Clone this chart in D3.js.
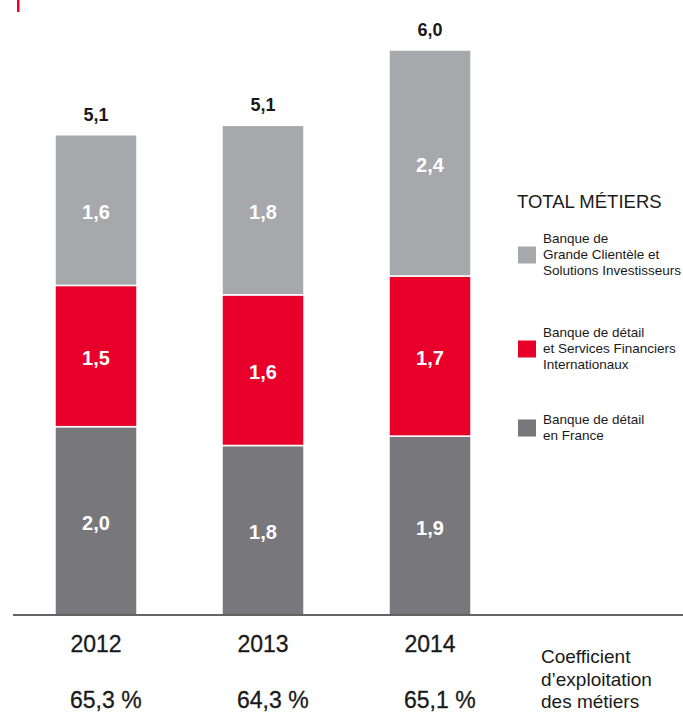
<!DOCTYPE html>
<html>
<head>
<meta charset="utf-8">
<script src="https://cdn.jsdelivr.net/npm/d3@7"></script>
<style>
  html, body { margin: 0; padding: 0; background: #fff; }
  svg { display: block; font-family: "Liberation Sans", Arial, Helvetica, sans-serif; }
</style>
</head>
<body>
<svg id="chart" width="683" height="714"></svg>
<script>
// Produit net bancaire par métier (Md EUR), 2012–2014
const years = ["2012", "2013", "2014"];
const retailFrance = [2.0, 1.8, 1.9];        // Banque de détail en France
const retailIntl = [1.5, 1.6, 1.7];          // Banque de détail et SFI
const corporateInvest = [1.6, 1.8, 2.4];     // Banque de Grande Clientèle et SI
const totals = ["5,1", "5,1", "6,0"];
const costRatios = ["65,3 %", "64,3 %", "65,1 %"];

const seriesKeys = ["france", "intl", "gcsi"];
const seriesColors = { france: "#78787c", intl: "#e8002b", gcsi: "#a7a8ac" };
const legendItems = [
  { key: "gcsi", lines: ["Banque de", "Grande Clientèle et", "Solutions Investisseurs"] },
  { key: "intl", lines: ["Banque de détail", "et Services Financiers", "Internationaux"] },
  { key: "france", lines: ["Banque de détail", "en France"] }
];

const table = years.map((yr, i) => ({
  year: yr, france: retailFrance[i], intl: retailIntl[i], gcsi: corporateInvest[i]
}));

const svg = d3.select("#chart");
const fmt = v => d3.format(".1f")(v).replace(".", ",");

const x = d3.scaleBand().domain(years).range([55, 471]).paddingInner(0.509).paddingOuter(0);
const y = d3.scaleLinear().domain([0, 6]).range([615, 50]);

const stacked = d3.stack().keys(seriesKeys)(table);

// Stacked bars
const layers = svg.append("g").selectAll("g")
  .data(stacked).join("g")
  .attr("fill", d => seriesColors[d.key]);

layers.selectAll("rect")
  .data(d => d.map(p => ({ p, key: d.key })))
  .join("rect")
  .attr("x", d => x(d.p.data.year))
  .attr("width", x.bandwidth())
  .attr("y", d => y(d.p[1]))
  .attr("height", d => y(d.p[0]) - y(d.p[1]))
  .attr("stroke", "#fff")
  .attr("stroke-width", 1.5);

// Segment values
layers.selectAll("text")
  .data(d => d.map(p => ({ p, key: d.key })))
  .join("text")
  .attr("x", d => x(d.p.data.year) + x.bandwidth() / 2)
  .attr("y", d => (y(d.p[0]) + y(d.p[1])) / 2 + 9)
  .attr("text-anchor", "middle")
  .attr("fill", "#fff")
  .attr("font-weight", "bold")
  .attr("font-size", 20)
  .text(d => fmt(d.p[1] - d.p[0]));

// Totals above bars
const topLayer = stacked[stacked.length - 1];
svg.append("g").selectAll("text")
  .data(topLayer).join("text")
  .attr("x", d => x(d.data.year) + x.bandwidth() / 2)
  .attr("y", d => y(d[1]) - 14)
  .attr("text-anchor", "middle")
  .attr("font-weight", "bold")
  .attr("font-size", 18)
  .attr("fill", "#1a1a1a")
  .text((d, i) => totals[i]);

// Baseline
svg.append("line")
  .attr("x1", 13).attr("x2", 683)
  .attr("y1", y(0)).attr("y2", y(0))
  .attr("stroke", "#333").attr("stroke-width", 1.5);

// Year labels and cost/income ratios
const bottom = svg.append("g").attr("fill", "#1a1a1a").attr("font-size", 23)
  .attr("stroke", "#1a1a1a").attr("stroke-width", 0.3);
bottom.selectAll("text.year")
  .data(years).join("text").attr("class", "year")
  .attr("x", d => x(d) + x.bandwidth() / 2)
  .attr("y", 652)
  .attr("text-anchor", "middle")
  .text(d => d);
bottom.selectAll("text.ratio")
  .data(costRatios).join("text").attr("class", "ratio")
  .attr("x", (d, i) => x(years[i]) + x.bandwidth() / 2 - 26)
  .attr("y", 708)
  .text(d => d);

const caption = svg.append("text").attr("font-size", 19).attr("fill", "#1a1a1a");
["Coefficient", "d’exploitation", "des métiers"].forEach((t, i) => {
  caption.append("tspan").attr("x", 541).attr("y", 663 + i * 22.5).text(t);
});

// Legend
svg.append("text")
  .attr("x", 517).attr("y", 208)
  .attr("font-size", 18.5)
  .attr("fill", "#1a1a1a")
  .text("TOTAL MÉTIERS");

const legendTop = [243, 337, 424];
const lg = svg.append("g");
legendItems.forEach((item, i) => {
  const n = item.lines.length;
  const firstBase = legendTop[i];
  const midY = firstBase + ((n - 1) * 16) / 2 - 4;
  lg.append("rect")
    .attr("x", 518).attr("y", midY - 8.5)
    .attr("width", 18).attr("height", 17)
    .attr("fill", seriesColors[item.key]);
  const t = lg.append("text").attr("font-size", 13.5).attr("fill", "#1a1a1a");
  item.lines.forEach((l, j) => {
    t.append("tspan").attr("x", 543).attr("y", firstBase + j * 16).text(l);
  });
});

// Accent mark
svg.append("rect")
  .attr("x", 17).attr("y", 0).attr("width", 2.5).attr("height", 12)
  .attr("fill", "#e8002b");
</script>
</body>
</html>
